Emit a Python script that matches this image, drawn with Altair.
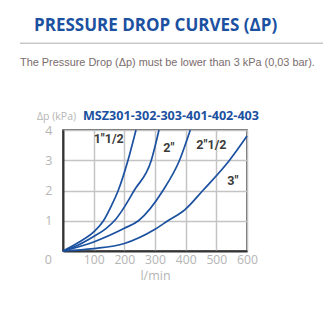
import altair as alt
import pandas as pd

# Curve data (flow l/min, pressure drop kPa)
c1_x = [0, 50, 100, 132, 158, 180, 212, 238]
c1_y = [0, 0.28, 0.63, 1.0, 1.5, 2.0, 3.0, 4.0]
c2_x = [0, 50, 100, 140, 172, 203, 232, 288, 313]
c2_y = [0, 0.2, 0.48, 0.74, 1.05, 1.5, 2.0, 3.0, 4.0]
c3_x = [0, 100, 200, 246, 326, 380, 415]
c3_y = [0, 0.3, 0.75, 1.0, 2.0, 3.0, 4.0]
c4_x = [0, 100, 200, 300, 342, 397, 456, 543, 600]
c4_y = [0, 0.08, 0.25, 0.72, 1.0, 1.36, 2.0, 3.0, 3.8]
series = ['1"1/2', '2"', '2"1/2', '3"']

label_text = ['1"1/2', '2"', '2"1/2', '3"']
label_x = [149, 345, 484, 554]
label_y = [3.69, 3.42, 3.5, 2.32]

x_ticks = [100, 200, 300, 400, 500, 600]
y_ticks = [1, 2, 3, 4]

title_text = "PRESSURE DROP CURVES (ΔP)"
subtitle_text = "The Pressure Drop (Δp) must be lower than 3 kPa (0,03 bar)."
unit_text = "Δp (kPa)"
model_text = "MSZ301-302-303-401-402-403"

rows = []
for name, xs_, ys_ in zip(series, [c1_x, c2_x, c3_x, c4_x], [c1_y, c2_y, c3_y, c4_y]):
    for i, (a, b) in enumerate(zip(xs_, ys_)):
        rows.append({"s": name, "flow": a, "dp": b, "o": i})
df = pd.DataFrame(rows)
lab = pd.DataFrame({"t": label_text, "flow": label_x, "dp": label_y})

BLUE = "#1b51a0"
GRAY = "#b5b5b5"

xs = alt.Scale(domain=[0, 600], nice=False)
ys = alt.Scale(domain=[0, 4], nice=False)

x_axis = alt.Axis(
    values=x_ticks, title="l/min", labelColor=GRAY, labelFontSize=12.2,
    labelFont="Open Sans", titleFont="Open Sans", titleFontWeight="normal",
    titleFontSize=12.5, titleColor=GRAY, titlePadding=4, labelPadding=2,
    tickSize=0, domainColor="#333333", domainWidth=2, gridColor="#c4c4c4",
    gridWidth=1.5, labelFlush=False, labelOverlap=False, labelBound=False)
y_axis = alt.Axis(
    values=y_ticks, title=None, labelColor=GRAY, labelFontSize=12.5,
    labelFont="Open Sans", labelPadding=11, tickSize=0, domainColor="#333333",
    domainWidth=2, gridColor="#c4c4c4", gridWidth=1.5, labelFlush=False,
    labelOverlap=False)

X = alt.X("flow:Q", scale=xs, axis=x_axis)
Y = alt.Y("dp:Q", scale=ys, axis=y_axis)

lines = alt.Chart(df).mark_line(color=BLUE, strokeWidth=1.7, interpolate="monotone").encode(
    x=X, y=Y, detail="s:N", order="o:Q")

labels = alt.Chart(lab).mark_text(fontSize=12.5, fontWeight="bold", color="#3a3a3a",
                                  font="Roboto").encode(x=X, y=Y, text="t:N")

zero = alt.Chart(pd.DataFrame({"flow": [0], "dp": [0], "t": ["0"]})).mark_text(
    fontSize=12.5, color=GRAY, font="Open Sans", align="right", baseline="middle",
    dx=-11, dy=9).encode(x=X, y=Y, text="t:N")

one = pd.DataFrame({"a": [0]})

def deco(text, px, py, size, color, weight="normal", font="Open Sans"):
    return alt.Chart(pd.DataFrame({"t": [text]})).mark_text(
        fontSize=size, color=color, fontWeight=weight, font=font,
        align="left", baseline="alphabetic").encode(
        x=alt.value(px), y=alt.value(py), text="t:N")

title = deco(title_text, -29, -99, 17, BLUE, "bold")
subtitle = deco(subtitle_text, -43, -64, 10.9, "#7a6c6c", font="Liberation Sans")
unit = deco(unit_text, -26, -10.5, 10.5, GRAY)
model = deco(model_text, 20, -10.5, 12.6, BLUE, "bold")
rule = alt.Chart(one).mark_rule(color="#c8c8c8", strokeWidth=1.5).encode(
    x=alt.value(-43), x2=alt.value(260), y=alt.value(-86.7))

chart = alt.layer(lines, labels, zero, title, subtitle, unit, model, rule).properties(
    width=184, height=121,
    autosize=alt.AutoSizeParams(type="none"),
    padding={"left": 63, "top": 130, "right": 82, "bottom": 80},
).configure_view(stroke="#3a3a3a", strokeWidth=1.5).configure_axis(labelOverlap=False)

chart.save("out.html", embed_options={"renderer": "svg", "actions": False})
